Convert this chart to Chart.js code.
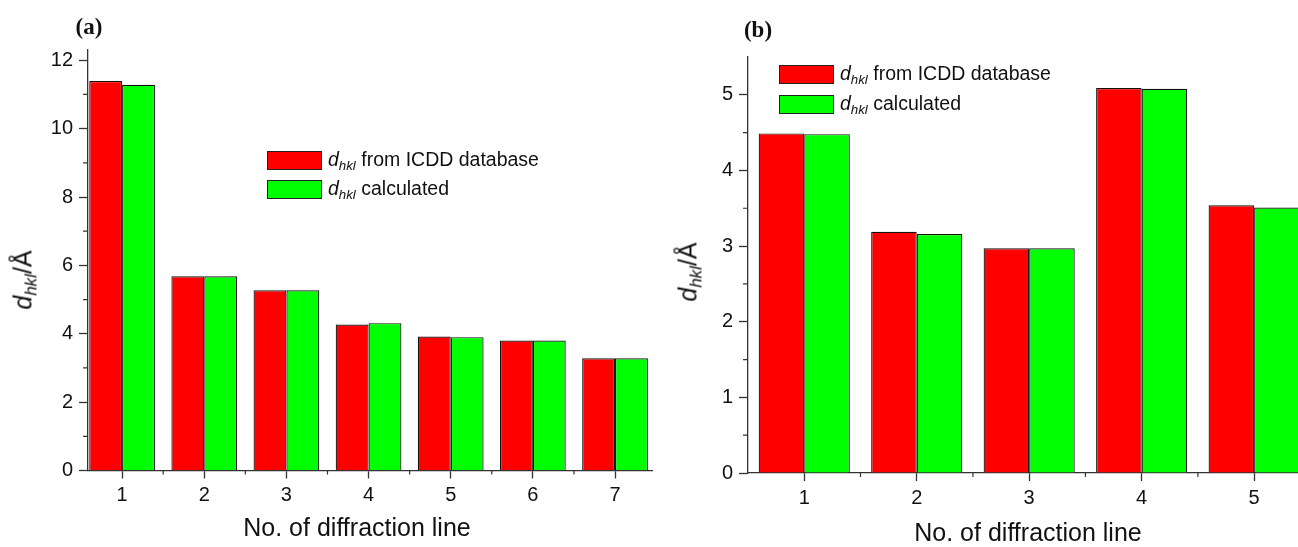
<!DOCTYPE html>
<html>
<head>
<meta charset="utf-8">
<script src="https://cdn.jsdelivr.net/npm/chart.js@4.4.1/dist/chart.umd.min.js"></script>
<style>
  html, body { margin: 0; padding: 0; background: #fff; }
  body { width: 1298px; height: 547px; position: relative; overflow: hidden; font-family: 'Liberation Sans', Arial, sans-serif; color: #111; }
  .panel { position: absolute; top: 0; height: 547px; }
  .lbl { position: absolute; white-space: nowrap; transform: translate(-50%, -50%); }
  .tag { font-family: 'Liberation Serif', 'Times New Roman', serif; font-weight: bold; font-size: 23px; }
  .xt { font-size: 25px; }
  .yt { font-size: 25px; transform: translate(-50%, -50%) rotate(-90deg); }
  .leg { position: absolute; display: flex; align-items: center; font-size: 19.5px; white-space: nowrap; }
  .leg .box { width: 53px; height: 17px; border: 1px solid #222; margin-right: 6px; }
  sub { font-size: 0.68em; vertical-align: -0.3em; }
</style>
</head>
<body>
<div class="panel" style="left:0;width:670px"><canvas id="chartA"></canvas></div>
<div class="panel" style="left:660px;width:638px"><canvas id="chartB"></canvas></div>

<div class="lbl tag" style="left:89px;top:27px">(a)</div>
<div class="lbl tag" style="left:758px;top:30px">(b)</div>

<div class="lbl yt" style="left:25px;top:280px"><i>d</i><sub><i>hkl</i></sub>/Å</div>
<div class="lbl yt" style="left:690px;top:272px"><i>d</i><sub><i>hkl</i></sub>/Å</div>

<div class="lbl xt" style="left:357px;top:527px">No. of diffraction line</div>
<div class="lbl xt" style="left:1028px;top:532px">No. of diffraction line</div>

<div class="leg" style="left:267px;top:148px"><span class="box" style="background:#ff0000"></span><span><i>d</i><sub><i>hkl</i></sub> from ICDD database</span></div>
<div class="leg" style="left:267px;top:177px"><span class="box" style="background:#00ff00"></span><span><i>d</i><sub><i>hkl</i></sub> calculated</span></div>

<div class="leg" style="left:779px;top:62px"><span class="box" style="background:#ff0000"></span><span><i>d</i><sub><i>hkl</i></sub> from ICDD database</span></div>
<div class="leg" style="left:779px;top:92px"><span class="box" style="background:#00ff00"></span><span><i>d</i><sub><i>hkl</i></sub> calculated</span></div>

<script>
// panel (a)
const linesA = [1, 2, 3, 4, 5, 6, 7];
const icddA = [11.39, 5.68, 5.27, 4.27, 3.92, 3.80, 3.28];
const calcA = [11.28, 5.68, 5.27, 4.31, 3.90, 3.80, 3.28];
const minorXA = [1.5, 2.5, 3.5, 4.5, 5.5, 6.5];
const minorYA = [1, 3, 5, 7, 9, 11];

// panel (b)
const linesB = [1, 2, 3, 4, 5];
const icddB = [4.49, 3.19, 2.97, 5.09, 3.54];
const calcB = [4.48, 3.16, 2.97, 5.08, 3.51];
const minorXB = [1.5, 2.5, 3.5, 4.5];
const minorYB = [0.5, 1.5, 2.5, 3.5, 4.5];

const AXIS = '#333';
const FONT = "'Liberation Sans', Arial, sans-serif";

// short ticks between the labelled ones, Origin style
const minorTicks = {
  id: 'minorTicks',
  afterDraw(chart, args, opts) {
    const { x, y } = chart.scales;
    const ctx = chart.ctx;
    ctx.save();
    ctx.strokeStyle = AXIS;
    ctx.lineWidth = 1.2;
    ctx.beginPath();
    (opts.x || []).forEach(v => {
      const px = x.getPixelForValue(v);
      ctx.moveTo(px, y.bottom);
      ctx.lineTo(px, y.bottom + 4);
    });
    (opts.y || []).forEach(v => {
      const py = y.getPixelForValue(v);
      ctx.moveTo(x.left, py);
      ctx.lineTo(x.left - 5, py);
    });
    ctx.stroke();
    ctx.restore();
  }
};

function makeChart(canvas, cfg) {
  return new Chart(canvas.getContext('2d'), {
    type: 'bar',
    data: {
      labels: cfg.labels,
      datasets: [
        { label: 'ICDD', data: cfg.icdd, backgroundColor: '#ff0000', borderColor: '#111', borderWidth: 1.2 },
        { label: 'calc', data: cfg.calc, backgroundColor: '#00ff00', borderColor: '#111', borderWidth: 1.2 }
      ]
    },
    options: {
      responsive: true,
      maintainAspectRatio: false,
      animation: false,
      categoryPercentage: cfg.catPct,
      barPercentage: 1.0,
      layout: { padding: { top: cfg.top, right: cfg.right, left: 0, bottom: 0 } },
      plugins: {
        legend: { display: false },
        tooltip: { enabled: false },
        minorTicks: { x: cfg.minorX, y: cfg.minorY }
      },
      scales: {
        x: {
          type: 'linear',
          offset: false,
          min: cfg.xMin,
          max: cfg.xMax,
          afterFit: s => { s.height = cfg.xHeight; },
          border: { display: true, color: AXIS, width: 1.3 },
          grid: { offset: false, drawOnChartArea: false, drawTicks: true, tickLength: 8, tickColor: AXIS, tickWidth: 1.3 },
          ticks: { stepSize: 1, includeBounds: false, padding: 5, color: '#111', font: { family: FONT, size: 20 } }
        },
        y: {
          min: 0,
          max: cfg.yMax,
          afterFit: s => { s.width = 88; },
          border: { display: true, color: AXIS, width: 1.3 },
          grid: { drawOnChartArea: false, drawTicks: true, tickLength: 9, tickColor: AXIS, tickWidth: 1.3 },
          ticks: { stepSize: cfg.yStep, includeBounds: false, padding: 6, color: '#111', font: { family: FONT, size: 20 } }
        }
      }
    },
    plugins: [minorTicks]
  });
}

makeChart(document.getElementById('chartA'), {
  labels: linesA, icdd: icddA, calc: calcA, minorX: minorXA, minorY: minorYA,
  xMin: 0.585, xMax: 7.45, yMax: 12.3, yStep: 2, catPct: 0.8,
  top: 50, right: 18, xHeight: 76.5
});

makeChart(document.getElementById('chartB'), {
  labels: linesB, icdd: icddB, calc: calcB, minorX: minorXB, minorY: minorYB,
  xMin: 0.5, xMax: 5.39, yMax: 5.5, yStep: 1, catPct: 0.81,
  top: 57, right: 0, xHeight: 74
});
</script>
</body>
</html>
